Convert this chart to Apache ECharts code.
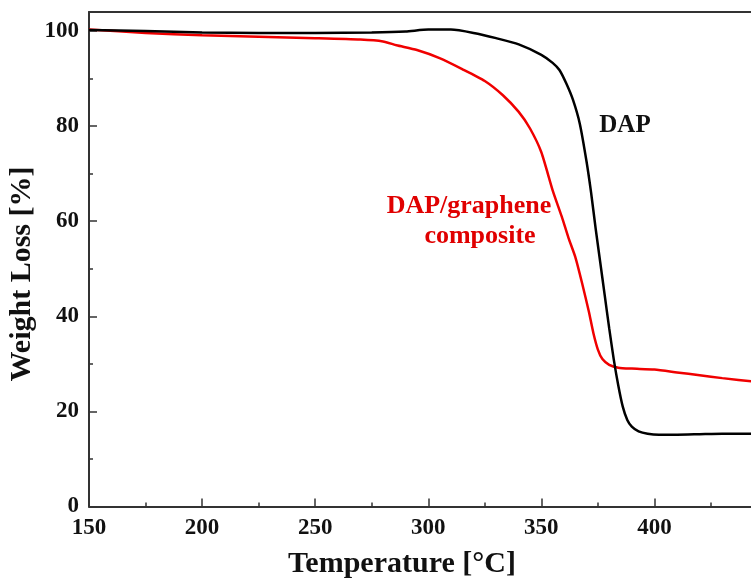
<!DOCTYPE html>
<html>
<head>
<meta charset="utf-8">
<script src="https://cdn.jsdelivr.net/npm/echarts@6/dist/echarts.min.js"></script>
<style>
html,body{margin:0;padding:0;background:#fff;}
#chart{width:751px;height:580px;}
</style>
</head>
<body>
<div id="chart"></div>
<script>
// Temperature (°C) and weight (%) for DAP
var dapTemp = [150,175,200,225,250,275,290,300,310,320,330,340,350,355,358,361,364,367,370,372,374,376,378,380,382,384,386,388,390,393,397,402,410,420,430,445];
var dapWeight = [100.2,100.0,99.7,99.6,99.6,99.7,99.9,100.3,100.3,99.6,98.5,97.2,95.0,93.3,91.8,89.0,85.5,80.5,72.5,66.0,58.5,51.5,44.5,37.5,31.0,25.5,21.0,18.2,16.8,15.8,15.3,15.1,15.1,15.2,15.3,15.3];
// Temperature (°C) and weight (%) for DAP/graphene composite
var compTemp = [150,175,200,225,250,270,280,286,295,305,315,325,333,340,345,350,355,359,362,365,368,371,373,375,377,380,384,390,400,410,420,430,445];
var compWeight = [100.3,99.6,99.1,98.8,98.5,98.2,97.8,97.0,96.0,94.3,92.0,89.5,86.5,83.0,79.5,74.5,66.5,61.0,56.5,52.5,47.0,41.0,36.5,33.0,31.0,29.8,29.2,29.0,28.8,28.2,27.6,27.0,26.2];
var xTicks = [150,200,250,300,350,400];
var xMinorTicks = [175,225,275,325,375,425];
var yTicks = [0,20,40,60,80,100];
var yMinorTicks = [10,30,50,70,90];
var xTitle = 'Temperature [°C]';
var yTitle = 'Weight Loss [%]';
var labelDAP = 'DAP';
var labelComp = ['DAP/graphene','composite'];

function pairs(xs, ys){ return xs.map(function(x,i){ return [x, ys[i]]; }); }

var X_MIN = 150, X_MAX = 442.7, Y_MIN = 0, Y_MAX = 104;
var font = '"Liberation Serif","Times New Roman",serif';
var axisColor = '#333';
var chart = echarts.init(document.getElementById('chart'), null, {renderer:'canvas'});
chart.setOption({
  animation:false,
  backgroundColor:'#fff',
  grid:{left:89, top:12, right:0, bottom:73.5, containLabel:false},
  xAxis:[{
    type:'value', min:X_MIN, max:X_MAX, position:'bottom',
    axisLine:{show:true, onZero:false, lineStyle:{color:axisColor, width:2}},
    axisTick:{show:true, inside:true, length:8, customValues:xTicks, lineStyle:{color:axisColor, width:1.5}},
    axisLabel:{show:true, customValues:xTicks, margin:10, fontFamily:font, fontWeight:'bold', fontSize:23, color:'#111'},
    splitLine:{show:false}
  },{
    type:'value', min:X_MIN, max:X_MAX, position:'top',
    axisLine:{show:true, onZero:false, lineStyle:{color:axisColor, width:2}},
    axisTick:{show:false}, axisLabel:{show:false}, splitLine:{show:false}
  },{
    type:'value', min:X_MIN, max:X_MAX, position:'bottom',
    axisLine:{show:false},
    axisTick:{show:true, inside:true, length:4, customValues:xMinorTicks, lineStyle:{color:axisColor, width:1.5}},
    axisLabel:{show:false}, splitLine:{show:false}
  }],
  yAxis:[{
    type:'value', min:Y_MIN, max:Y_MAX, position:'left',
    axisLine:{show:true, onZero:false, lineStyle:{color:axisColor, width:2}},
    axisTick:{show:true, inside:true, length:8, customValues:yTicks, lineStyle:{color:axisColor, width:1.5}},
    axisLabel:{show:true, customValues:yTicks, margin:10, fontFamily:font, fontWeight:'bold', fontSize:23, color:'#111'},
    splitLine:{show:false}
  },{
    type:'value', min:Y_MIN, max:Y_MAX, position:'left',
    axisLine:{show:false},
    axisTick:{show:true, inside:true, length:4, customValues:yMinorTicks, lineStyle:{color:axisColor, width:1.5}},
    axisLabel:{show:false}, splitLine:{show:false}
  }],
  series:[{
    name:'DAP', type:'line', xAxisIndex:0, yAxisIndex:0,
    data:pairs(dapTemp, dapWeight), showSymbol:false, smooth:0.2,
    lineStyle:{color:'#000', width:2.5}, z:3
  },{
    name:'DAP/graphene composite', type:'line', xAxisIndex:0, yAxisIndex:0,
    data:pairs(compTemp, compWeight), showSymbol:false, smooth:0.2,
    lineStyle:{color:'#f00000', width:2.5}, z:2
  }],
  graphic:[
    {type:'text', x:402, y:564, style:{text:xTitle, font:'bold 30px '+font, fill:'#111', align:'center', verticalAlign:'middle'}},
    {type:'text', rotation:Math.PI/2, x:22, y:274, style:{text:yTitle, font:'bold 30px '+font, fill:'#111', align:'center', verticalAlign:'middle'}},
    {type:'text', x:625, y:126, style:{text:labelDAP, font:'bold 25px '+font, fill:'#111', align:'center', verticalAlign:'middle'}},
    {type:'text', x:469, y:206, style:{text:labelComp[0], font:'bold 26px '+font, fill:'#e00000', align:'center', verticalAlign:'middle'}},
    {type:'text', x:480, y:236, style:{text:labelComp[1], font:'bold 26px '+font, fill:'#e00000', align:'center', verticalAlign:'middle'}}
  ]
});
</script>
</body>
</html>
